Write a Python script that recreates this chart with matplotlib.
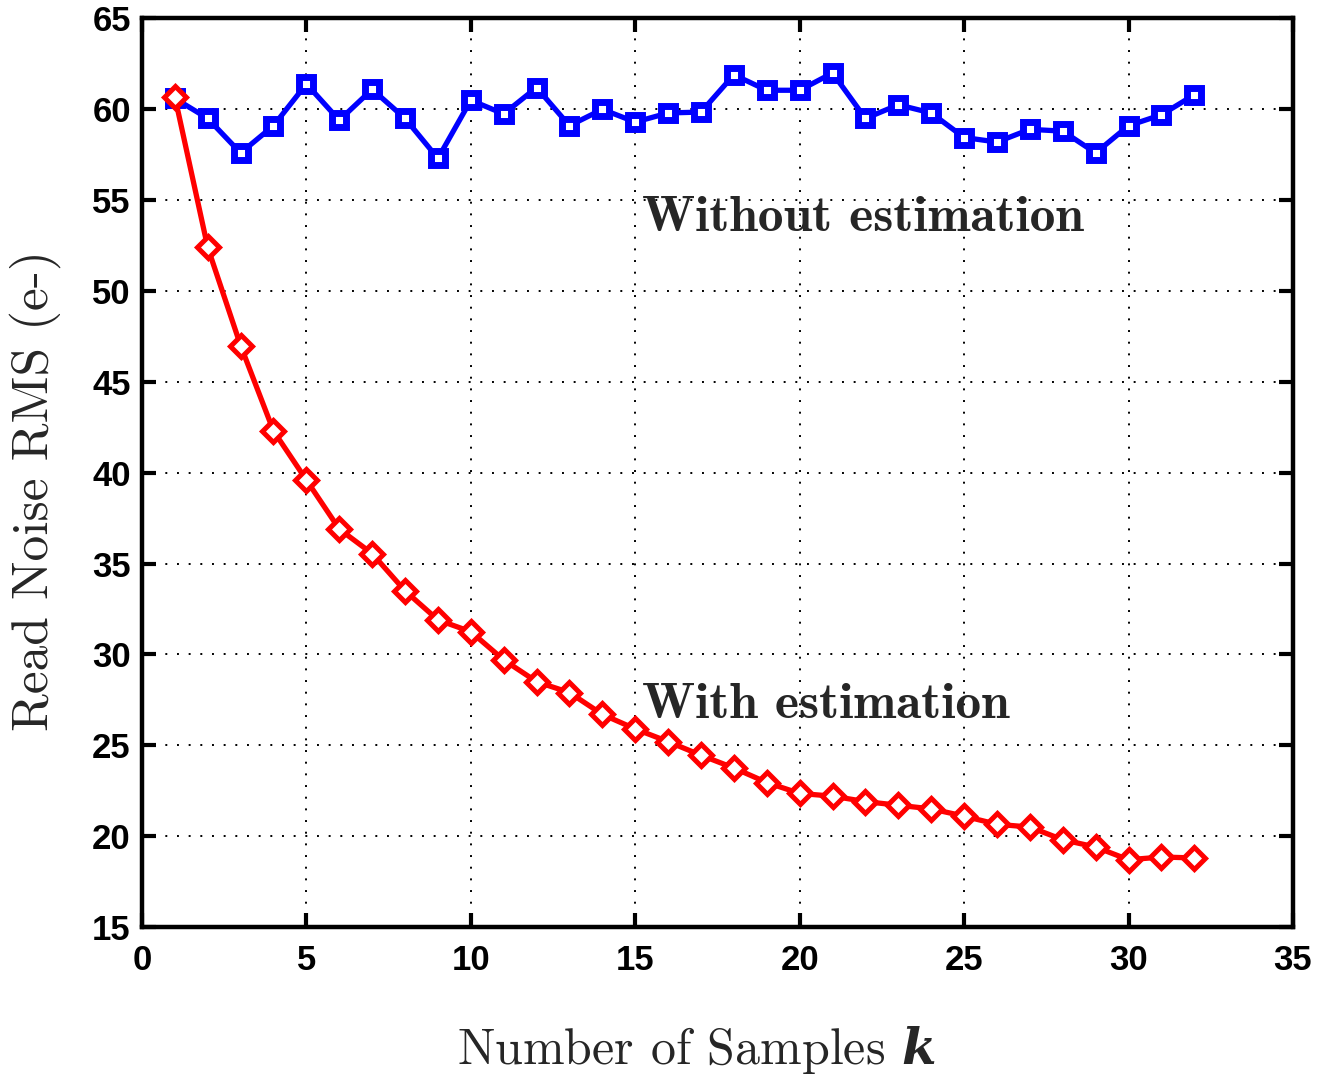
import matplotlib
matplotlib.use("Agg")
import matplotlib.pyplot as plt
import numpy as np

plt.rcParams["mathtext.fontset"] = "custom"
plt.rcParams["mathtext.rm"] = "cmr10"
plt.rcParams["mathtext.bfit"] = "DejaVu Serif:italic:bold"
plt.rcParams["axes.unicode_minus"] = False

# read noise vs number of samples
samples = np.arange(1, 33)
without_est = [60.6, 59.5, 57.6, 59.1, 61.4, 59.4, 61.1, 59.5, 57.3, 60.5,
               59.75, 61.2, 59.1, 60.0, 59.3, 59.8, 59.85, 61.9, 61.05, 61.05,
               62.0, 59.5, 60.25, 59.8, 58.45, 58.2, 58.9, 58.8, 57.6, 59.1,
               59.7, 60.8]
with_est = [60.7, 52.4, 47.0, 42.3, 39.6, 36.9, 35.55, 33.5, 31.9, 31.25,
            29.7, 28.5, 27.9, 26.7, 25.9, 25.2, 24.45, 23.75, 22.95, 22.35,
            22.2, 21.9, 21.7, 21.5, 21.1, 20.65, 20.5, 19.8, 19.4, 18.7,
            18.85, 18.8]

xticks = [0, 5, 10, 15, 20, 25, 30, 35]
yticks = [15, 20, 25, 30, 35, 40, 45, 50, 55, 60, 65]

text_color = "#262626"

fig = plt.figure(figsize=(13.18, 10.75), dpi=100)
ax = fig.add_axes([0.1077, 0.1377, 0.8733, 0.8451])

ax.plot(samples, without_est, color="#0000ff", lw=3.8, marker="s", ms=10.5,
        mfc="white", mec="#0000ff", mew=5, zorder=3)
ax.plot(samples, with_est, color="#ff0000", lw=3.8, marker="D", ms=11.5,
        mfc="white", mec="#ff0000", mew=3.6, zorder=4)

ax.set_xlim(0, 35)
ax.set_ylim(15, 65)
ax.set_xticks(xticks)
ax.set_yticks(yticks)
ax.grid(True, color="black", linestyle=(0, (1, 5)), lw=1.4)

for lbl in ax.get_xticklabels() + ax.get_yticklabels():
    lbl.set_fontfamily("Liberation Sans")
    lbl.set_fontweight("bold")
    lbl.set_fontsize(25)

ax.tick_params(direction="in", length=10, width=3, top=True, right=True,
               colors="black")
ax.tick_params(axis="x", pad=12)
ax.tick_params(axis="y", pad=8)
for sp in ax.spines.values():
    sp.set_linewidth(3.2)

ax.set_xlabel(r"Number of Samples $\mathbfit{k}$", fontfamily="cmr10",
              fontsize=36, color=text_color, va="center", ha="center")
ax.xaxis.set_label_coords(0.482, -0.1354)
ax.set_ylabel("Read Noise RMS (e-)", fontfamily="cmr10", fontsize=37,
              color=text_color, va="center", ha="center")
ax.yaxis.set_label_coords(-0.093, 0.48)

ax.text(15.2, 54.0, "Without estimation", fontfamily="cmb10", fontsize=37,
        color=text_color, va="center", ha="left")
ax.text(15.2, 27.2, "With estimation", fontfamily="cmb10", fontsize=37,
        color=text_color, va="center", ha="left")

fig.savefig("out.png", dpi=100)
